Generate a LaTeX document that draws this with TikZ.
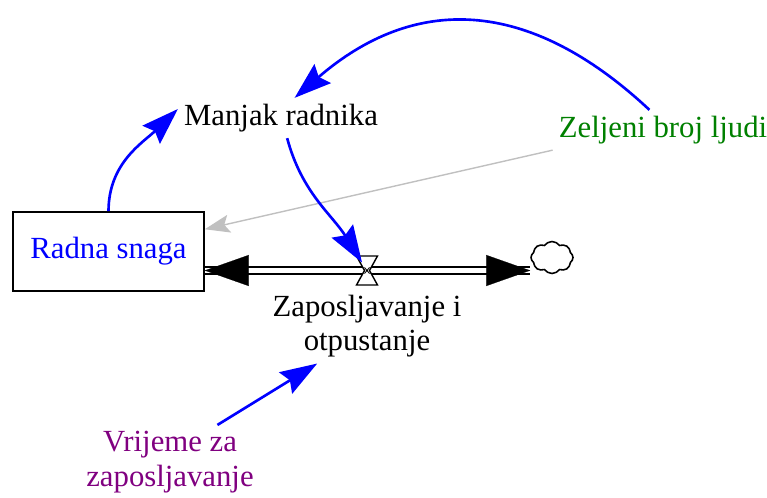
\documentclass[tikz,border=0pt]{standalone}
\usepackage{fontspec}
\setmainfont{Liberation Serif}
\usetikzlibrary{arrows.meta,shapes.symbols}
\definecolor{linkblue}{RGB}{0,0,255}
\definecolor{constgreen}{RGB}{0,128,0}
\definecolor{constpurple}{RGB}{128,0,128}
\definecolor{infogray}{RGB}{192,192,192}
\begin{document}
\begin{tikzpicture}[x=0.02cm,y=0.02cm,
  every node/.style={font=\fontsize{17.5}{19.8}\selectfont},
  link/.style={linkblue,line width=1.5pt,-{Stealth[length=0.74cm,width=0.5cm,inset=0.1cm]}},
  pipetip/.style={white,line width=0.1pt,-{Triangle[black,length=0.88cm,width=0.62cm]}}]
\useasboundingbox (0,0) rectangle (767,-497);
\node[draw,line width=0.9pt,minimum width=3.82cm,minimum height=1.58cm,text=linkblue] (snaga) at (108.5,-251.5) {Radna snaga};
\node (manjak) at (281,-118) {Manjak radnika};
\node[text=constgreen] (zeljeni) at (663,-130) {Zeljeni broj ljudi};
\node[align=center] (protok) at (367,-326) {Zaposljavanje i\\otpustanje};
\node[align=center,text=constpurple] (vrijeme) at (170,-462) {Vrijeme za\\zaposljavanje};
\node[cloud,draw,line width=0.9pt,cloud puffs=8,cloud puff arc=110,aspect=1.3,minimum width=0.84cm,minimum height=0.64cm,inner sep=0pt] (oblak) at (552,-257.5) {};
\coordinate (ventil) at (367,-270.5);
\draw[line width=0.85pt,double=white,double distance=0.11cm] (snaga.east |- ventil) -- (oblak.west |- ventil);
\draw[pipetip] (ventil) -- (snaga.east |- ventil);
\draw[pipetip] (ventil) -- (oblak.west |- ventil);
\draw[fill=white,line width=0.8pt] (ventil) ++(-10.5,14.5) -- ++(21,0) -- ++(-8,-14.5) -- ++(8,-14.5) -- ++(-21,0) -- ++(8,14.5) -- cycle;
\draw[line width=0.5pt] (ventil) ++(-2.5,-3) -- ++(5,6) ++(0,-6) -- ++(-5,6);
\draw[infogray,line width=0.8pt,-{Stealth[length=0.5cm,width=0.36cm,inset=0.1cm]}] (zeljeni.south west) -- (snaga.13);
\draw[link] (snaga.north) to[out=90,in=224] (manjak.175);
\draw[link] (zeljeni.124) .. controls +(-123,115) and +(118,102) .. (manjak.56);
\draw[link] (manjak.-73) to[out=-75,in=122] ([shift={(-5,8)}]ventil);
\draw[link] (vrijeme.38) -- (protok.217);
\end{tikzpicture}
\end{document}
